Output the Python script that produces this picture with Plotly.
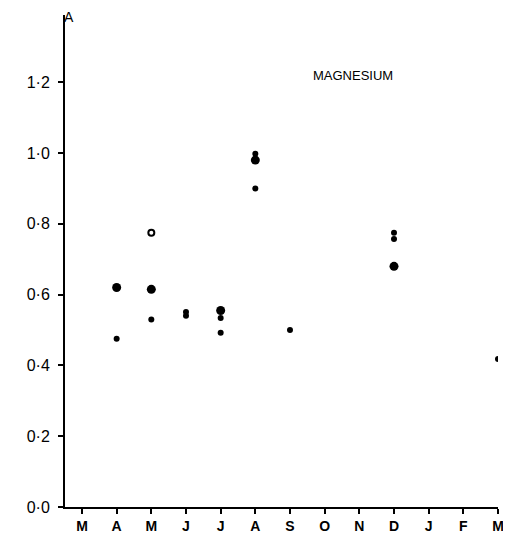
import plotly.graph_objects as go

# Month positions: 0 = March ... 12 = March (next year)
month_labels = ["M", "A", "M", "J", "J", "A", "S", "O", "N", "D", "J", "F", "M"]
month_pos = list(range(13))

# Large filled dots
big_x = [1, 2, 4, 5, 9]
big_y = [0.62, 0.615, 0.555, 0.98, 0.68]

# Small filled dots
small_x = [1, 2, 3, 3, 4, 4, 5, 5, 6, 9, 9, 12]
small_y = [0.475, 0.53, 0.551, 0.540, 0.534, 0.492, 0.998, 0.90, 0.50, 0.775, 0.757, 0.418]

# Open circles
open_x = [2]
open_y = [0.775]

y_ticks = [0.0, 0.2, 0.4, 0.6, 0.8, 1.0, 1.2]
y_tick_text = ["0·0", "0·2", "0·4", "0·6", "0·8", "1·0", "1·2"]

FONT = "Liberation Sans, Arial, sans-serif"

fig = go.Figure()
fig.add_trace(go.Scatter(x=small_x, y=small_y, mode="markers",
                         marker=dict(color="black", size=6), showlegend=False))
fig.add_trace(go.Scatter(x=big_x, y=big_y, mode="markers",
                         marker=dict(color="black", size=9), showlegend=False))
fig.add_trace(go.Scatter(x=open_x, y=open_y, mode="markers",
                         marker=dict(color="white", size=6, line=dict(color="black", width=2)),
                         showlegend=False))

fig.add_annotation(x=7.83, y=1.22, text="MAGNESIUM", showarrow=False,
                   font=dict(family=FONT, size=13, color="black"))
fig.add_annotation(xref="paper", yref="paper", x=-0.008, y=1.0, yshift=8, text="A",
                   showarrow=False, yanchor="top",
                   font=dict(family=FONT, size=14, color="black"))

# The page body adds an 8px margin, so the figure is 8px smaller each way.
fig.update_layout(
    width=503, height=538,
    margin=dict(l=57, r=11, t=7, b=39),
    plot_bgcolor="white", paper_bgcolor="white",
    font=dict(family=FONT, color="black"),
    xaxis=dict(range=[-0.49, 12.0], tickmode="array", tickvals=month_pos, ticktext=month_labels,
               showgrid=False, zeroline=False, showline=True, linecolor="black", linewidth=2,
               ticks="outside", ticklen=5, tickwidth=1.5, tickcolor="black",
               tickfont=dict(size=14, family=FONT, weight="bold"),
               ticklabelstandoff=0),
    yaxis=dict(range=[0, 1.39], tickmode="array", tickvals=y_ticks, ticktext=y_tick_text,
               showgrid=False, zeroline=False, showline=True, linecolor="black", linewidth=2,
               ticks="outside", ticklen=5, tickwidth=1.5, tickcolor="black",
               tickfont=dict(size=16, family=FONT),
               ticklabelstandoff=5),
)

fig.write_html("out.html")
